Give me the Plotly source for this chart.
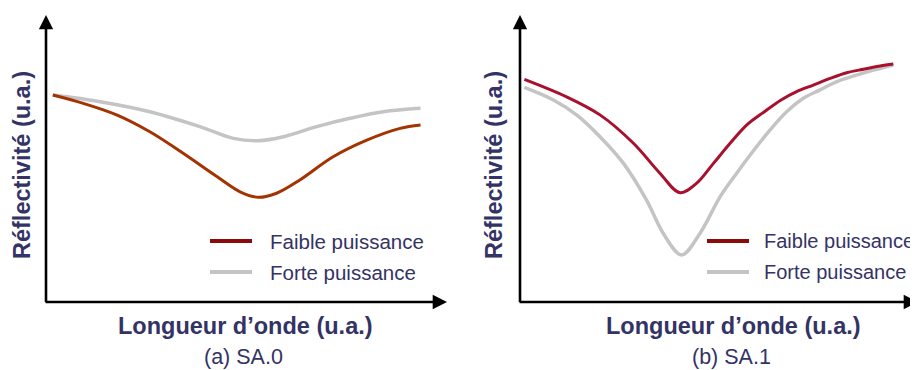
import plotly.graph_objects as go

# page body adds an 8px margin: the figure occupies reference pixels 8..918 x 8..370
OFF = 8
W, H = 918 - OFF, 370 - OFF

# ---------------- data (arbitrary units) ----------------
# Panel (a) SA.0
a_faible_x = [1.7, 9.3, 17.6, 25.9, 34.2, 42.6, 48.4, 52.9, 57.5, 63.3, 71.6, 80.0, 88.3, 93.4]
a_faible_y = [72.1, 69.2, 65.2, 59.3, 51.8, 43.7, 38.4, 36.5, 37.9, 42.5, 50.6, 56.4, 60.5, 61.7]
a_forte_x = [1.7, 13.5, 25.9, 38.4, 46.7, 52.9, 59.2, 67.5, 75.8, 84.1, 93.4]
a_forte_y = [72.1, 69.8, 66.3, 61.1, 57.0, 56.2, 57.6, 61.1, 64.0, 66.3, 67.5]

# Panel (b) SA.1
b_faible_x = [1.1, 11.7, 20.1, 28.5, 35.2, 40.2, 44.4, 48.6, 52.8, 57.0, 61.4, 65.6, 69.5, 73.7,
              77.9, 82.1, 86.3, 90.5, 93.8]
b_faible_y = [77.6, 71.5, 65.2, 55.3, 44.8, 38.1, 41.4, 48.3, 55.3, 61.7, 66.3, 70.4, 73.3, 75.6,
              77.9, 79.9, 81.1, 82.2, 82.9]
b_forte_x = [1.1, 8.4, 14.2, 20.1, 26.0, 31.8, 36.0, 40.6, 45.2, 50.3, 54.4, 58.6, 62.8, 67.0,
             71.2, 75.4, 79.6, 83.7, 88.8, 93.8]
b_forte_y = [74.8, 70.4, 65.2, 57.6, 48.3, 35.5, 23.9, 16.4, 23.9, 36.7, 44.8, 52.6, 59.9, 66.3,
             71.0, 73.9, 76.8, 78.7, 80.8, 82.6]

series_names = ["Faible puissance", "Forte puissance"]
x_title = "Longueur d’onde (u.a.)"
y_title = "Réflectivité (u.a.)"
captions = ["(a) SA.0", "(b) SA.1"]

# ---------------- styles ----------------
TXT = "#333366"
GRAY = "#C4C4C4"
A_RED = "#A33300"
B_RED = "#A8102E"
LEG_RED = "#8B0A0A"
FONT = "Liberation Sans, Arial, sans-serif"

def px(x):
    return (x - OFF) / W

def py(y):
    return 1 - (y - OFF) / H

fig = go.Figure()

fig.add_trace(go.Scatter(x=a_forte_x, y=a_forte_y, mode="lines", name=series_names[1],
                         line=dict(color=GRAY, width=3.5, shape="spline"),
                         xaxis="x", yaxis="y", showlegend=False))
fig.add_trace(go.Scatter(x=a_faible_x, y=a_faible_y, mode="lines", name=series_names[0],
                         line=dict(color=A_RED, width=3, shape="spline"),
                         xaxis="x", yaxis="y", showlegend=False))
fig.add_trace(go.Scatter(x=b_forte_x, y=b_forte_y, mode="lines", name=series_names[1],
                         line=dict(color=GRAY, width=3.5, shape="spline"),
                         xaxis="x2", yaxis="y2", showlegend=False))
fig.add_trace(go.Scatter(x=b_faible_x, y=b_faible_y, mode="lines", name=series_names[0],
                         line=dict(color=B_RED, width=3, shape="spline"),
                         xaxis="x2", yaxis="y2", showlegend=False))

ydom = [py(302), py(15)]
axcommon = dict(visible=False, range=[0, 100], fixedrange=True)
fig.update_layout(
    width=W, height=H,
    margin=dict(l=0, r=0, t=0, b=0),
    paper_bgcolor="white", plot_bgcolor="white",
    xaxis=dict(domain=[px(46), px(447)], **axcommon),
    yaxis=dict(domain=ydom, **axcommon),
    xaxis2=dict(domain=[px(520), min(1.0, px(918))], anchor="y2", **axcommon),
    yaxis2=dict(domain=ydom, anchor="x2", **axcommon),
    font=dict(family=FONT, color=TXT),
    showlegend=False,
)

annotations = []
shapes = []

# axes with arrows
for xr, yr in [("x", "y"), ("x2", "y2")]:
    annotations.append(dict(xref=f"{xr} domain", yref=f"{yr} domain", axref=f"{xr} domain", ayref=f"{yr} domain",
                            x=1, y=0, ax=-0.005, ay=0, text="", showarrow=True,
                            arrowhead=2, arrowsize=1.1, arrowwidth=2.6, arrowcolor="black", standoff=0))
    annotations.append(dict(xref=f"{xr} domain", yref=f"{yr} domain", axref=f"{xr} domain", ayref=f"{yr} domain",
                            x=0, y=1, ax=0, ay=-0.005, text="", showarrow=True,
                            arrowhead=2, arrowsize=1.1, arrowwidth=2.6, arrowcolor="black", standoff=0))

# titles & captions
for cx, ycx, cap in [(245, 22, captions[0]), (733, 494, captions[1])]:
    annotations.append(dict(xref="paper", yref="paper", x=px(cx), y=py(326), text=f"<b>{x_title}</b>",
                            showarrow=False, font=dict(size=23.5, color=TXT), xanchor="center", yanchor="middle"))
    annotations.append(dict(xref="paper", yref="paper", x=px(ycx), y=py(165), text=f"<b>{y_title}</b>",
                            showarrow=False, font=dict(size=23.5, color=TXT), textangle=-90,
                            xanchor="center", yanchor="middle"))
    annotations.append(dict(xref="paper", yref="paper", x=px(cx - 2), y=py(356.5), text=cap,
                            showarrow=False, font=dict(size=21.5, color=TXT), xanchor="center", yanchor="middle"))

# legends (manual)
for lx0, lx1, tx, fs in [(210, 252, 268, 20.5), (707, 749, 762, 20)]:
    for yy, col, name in [(241, LEG_RED, series_names[0]), (272, GRAY, series_names[1])]:
        shapes.append(dict(type="line", xref="paper", yref="paper", x0=px(lx0), x1=px(lx1), y0=py(yy), y1=py(yy),
                           line=dict(color=col, width=4)))
        annotations.append(dict(xref="paper", yref="paper", x=px(tx), y=py(yy), text=name, showarrow=False,
                                font=dict(size=fs, color=TXT), xanchor="left", yanchor="middle"))

fig.update_layout(annotations=annotations, shapes=shapes)
fig.write_html("out.html")
